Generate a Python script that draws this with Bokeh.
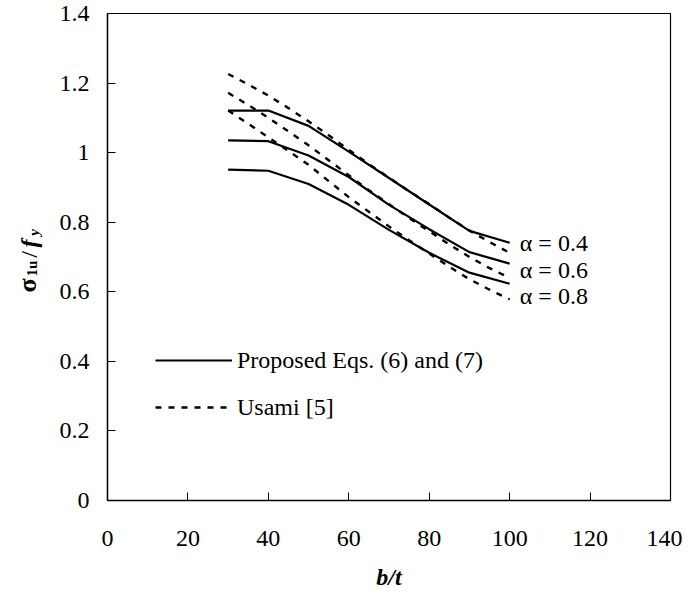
import numpy as np
from bokeh.plotting import figure
from bokeh.layouts import row
from bokeh.models import Range1d, Label, Legend, LegendItem, FixedTicker
from bokeh.core.properties import value
from bokeh.embed import file_html
from bokeh.resources import INLINE

# ---------------- data ----------------
bt_prop = [30, 40, 50, 60, 70, 80, 90, 100]
prop_a04 = [1.121, 1.121, 1.077, 1.003, 0.927, 0.851, 0.775, 0.741]
prop_a06 = [1.035, 1.033, 0.992, 0.930, 0.850, 0.780, 0.714, 0.681]
prop_a08 = [0.951, 0.948, 0.910, 0.850, 0.778, 0.712, 0.655, 0.623]

bt_usami = [30, 35, 40, 45, 50, 55, 60, 65, 70, 75, 80, 85, 90, 95, 100]
usami_a04 = [1.226, 1.196, 1.164, 1.128, 1.090, 1.050, 1.008, 0.967, 0.928,
             0.889, 0.852, 0.813, 0.776, 0.743, 0.712]
usami_a06 = [1.172, 1.137, 1.100, 1.061, 1.021, 0.978, 0.935, 0.892, 0.852,
             0.812, 0.774, 0.736, 0.700, 0.668, 0.640]
usami_a08 = [1.121, 1.083, 1.044, 1.005, 0.965, 0.918, 0.872, 0.830, 0.788,
             0.748, 0.710, 0.672, 0.636, 0.606, 0.578]

alpha_labels = ["\u03b1 = 0.4", "\u03b1 = 0.6", "\u03b1 = 0.8"]
legend_labels = ["Proposed Eqs. (6) and (7)", "Usami [5]"]

x_ticks = [0, 20, 40, 60, 80, 100, 120, 140]
x_tick_labels = ["0", "20", "40", "60", "80", "100", "120", "140"]
y_ticks = [0, 0.2, 0.4, 0.6, 0.8, 1, 1.2, 1.4]
y_tick_labels = ["0", "0.2", "0.4", "0.6", "0.8", "1", "1.2", "1.4"]
x_title = "b/t"

# ---------------- layout ----------------
LEFT_W = 56                       # narrow strip holding the y title
W, H = 682 - LEFT_W, 599
BL, BR, BT = 50, 12, 13
FRAME_BOTTOM = 500
BB = H - FRAME_BOTTOM
X0, X1, Y0, Y1 = 0, 140, 0, 1.4
FW = W - BL - BR
FH = H - BT - BB
PIC_L = LEFT_W + BL               # picture x of frame left


def at(px, py):
    """picture pixel -> data coordinates (for placing text annotations)"""
    return (X0 + (px - PIC_L) * (X1 - X0) / FW,
            Y0 + (FRAME_BOTTOM - py) * (Y1 - Y0) / FH)


FONT = "Liberation Serif"
FS = "24px"

p = figure(width=W, height=H, output_backend="svg", toolbar_location=None,
           x_range=Range1d(X0, X1), y_range=Range1d(Y0, Y1),
           min_border_left=BL, min_border_right=BR,
           min_border_top=BT, min_border_bottom=BB)
p.background_fill_color = "white"
p.border_fill_color = "white"
p.outline_line_color = "black"
p.outline_line_width = 1.2
p.xgrid.visible = False
p.ygrid.visible = False

for ax in (p.xaxis, p.yaxis):
    ax.axis_line_width = 1.4
    ax.axis_line_color = "black"
    ax.major_tick_in = 8
    ax.major_tick_out = 0
    ax.major_tick_line_color = "black"
    ax.major_tick_line_width = 1
    ax.minor_tick_line_color = None
    ax.major_label_text_font = FONT
    ax.major_label_text_font_size = FS
    ax.major_label_text_color = "black"

p.xaxis.ticker = FixedTicker(ticks=x_ticks)
p.yaxis.ticker = FixedTicker(ticks=y_ticks)
p.xaxis.major_label_overrides = {t: l for t, l in zip(x_ticks, x_tick_labels)}
p.yaxis.major_label_overrides = {t: l for t, l in zip(y_ticks, y_tick_labels)}
p.xaxis.major_label_standoff = 30
p.yaxis.major_label_standoff = 18

p.xaxis.axis_label = x_title
p.xaxis.axis_label_text_font = FONT
p.xaxis.axis_label_text_font_size = FS
p.xaxis.axis_label_text_font_style = "bold italic"
p.xaxis.axis_label_text_color = "black"
p.xaxis.axis_label_standoff = 15

# ---------------- curves ----------------
solid_r = []
for ys in (prop_a04, prop_a06, prop_a08):
    solid_r.append(p.line(bt_prop, ys, line_color="black", line_width=2.2))
dash_r = []
for ys in (usami_a04, usami_a06, usami_a08):
    dash_r.append(p.line(bt_usami, ys, line_color="black", line_width=2.4,
                         line_dash="6 7"))

# alpha labels
for lab, py in zip(alpha_labels, [242, 269, 295]):
    x, y = at(519, py)
    p.add_layout(Label(x=x, y=y, text=lab, text_font=FONT, text_font_size=FS,
                       text_align="left", text_baseline="middle",
                       text_color="black"))

# legend
legend = Legend(items=[LegendItem(label=legend_labels[0], renderers=[solid_r[0]]),
                       LegendItem(label=legend_labels[1], renderers=[dash_r[0]])],
                location=(48, 79), orientation="vertical",
                glyph_width=77, glyph_height=28, label_height=28,
                label_standoff=5, spacing=19, padding=0, margin=0,
                border_line_alpha=0, background_fill_alpha=0,
                label_text_font=FONT, label_text_font_size=FS,
                label_text_color="black")
p.add_layout(legend)

# ---------------- y title strip: sigma_1u / f_y (rotated) ----------------
# the row aligns this strip's frame with the main frame (BT .. FRAME_BOTTOM),
# so its y range is set in picture pixels over that span
pl = figure(width=LEFT_W, height=H, output_backend="svg", toolbar_location=None,
            x_range=Range1d(0, LEFT_W), y_range=Range1d(FRAME_BOTTOM, BT),
            x_axis_location=None, y_axis_location=None,
            min_border_left=0, min_border_right=0,
            min_border_top=BT, min_border_bottom=BB)
pl.outline_line_color = None
pl.xgrid.visible = False
pl.ygrid.visible = False
pl.background_fill_color = "white"
pl.border_fill_color = "white"

pieces = [
    ("\u03c3", 27, 285, "26px", "bold"),
    ("1u", 31, 268, "15px", "bold"),
    ("/", 28, 254, FS, "normal"),
    ("f", 28, 243, FS, "bold italic"),
    ("y", 33, 232, "15px", "bold italic"),
]
for txt, px, py, fs, st in pieces:
    pl.text(x=[px], y=[py], text=[txt], text_font=value(FONT),
            text_font_size=value(fs), text_font_style=value(st),
            angle=np.pi / 2, text_align="center", text_baseline="middle",
            text_color="black")

layout = row(pl, p)
open("out.html", "w").write(file_html(layout, INLINE))
